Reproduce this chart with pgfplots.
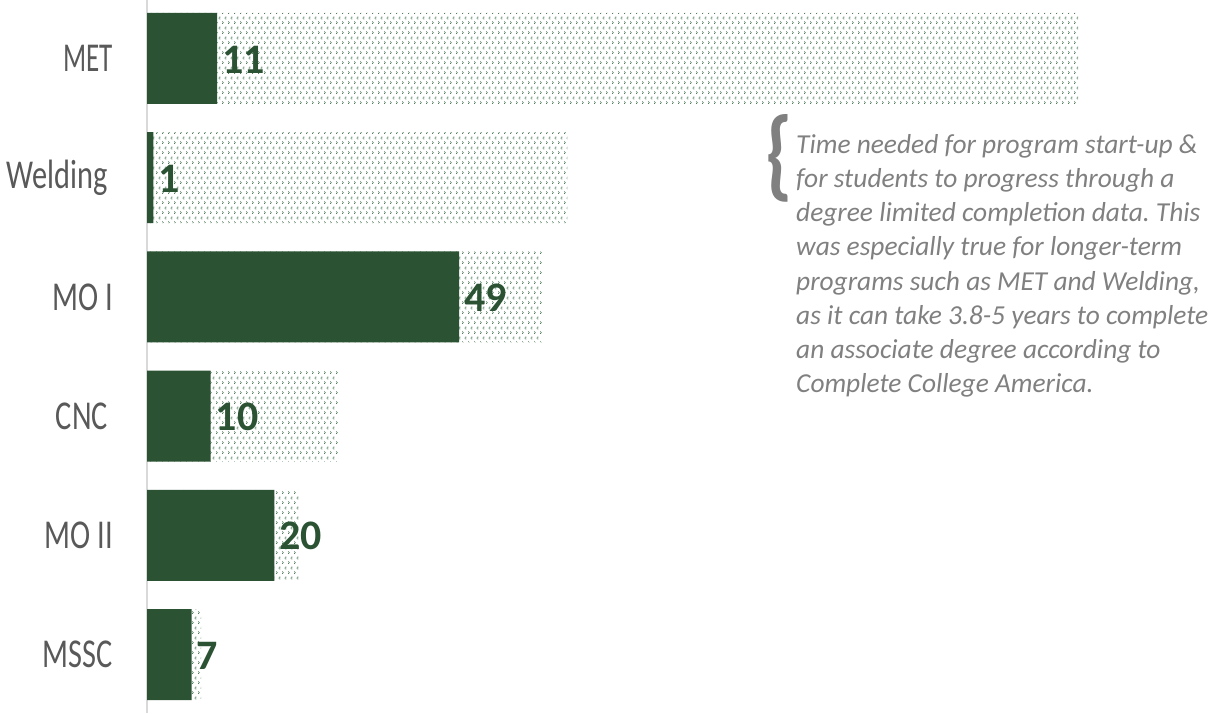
\documentclass[border=0pt]{standalone}
\usepackage{fontspec}
\setmainfont{Carlito}
\newfontfamily\condfont[FakeStretch=0.74]{Carlito}
\newfontfamily\condfontn[FakeStretch=0.66]{Carlito}
\usepackage{pgfplots}
\pgfplotsset{compat=1.18}
\usetikzlibrary{patterns}
\definecolor{dkgreen}{HTML}{2A5233}
\definecolor{patgreen}{HTML}{4F7D5B}
\definecolor{lblgray}{HTML}{595959}
\definecolor{notegray}{HTML}{808080}
\pgfdeclarepatternformonly{chevdots}{\pgfqpoint{0pt}{0pt}}{\pgfqpoint{6pt}{10pt}}{\pgfqpoint{6pt}{10pt}}{%
 \pgfpathrectangle{\pgfqpoint{0pt}{0pt}}{\pgfqpoint{1pt}{1pt}}%
 \pgfpathrectangle{\pgfqpoint{1pt}{1pt}}{\pgfqpoint{1pt}{1pt}}%
 \pgfpathrectangle{\pgfqpoint{0pt}{2pt}}{\pgfqpoint{1pt}{1pt}}%
 \pgfpathrectangle{\pgfqpoint{4pt}{5pt}}{\pgfqpoint{1pt}{1pt}}%
 \pgfpathrectangle{\pgfqpoint{3pt}{6pt}}{\pgfqpoint{1pt}{1pt}}%
 \pgfpathrectangle{\pgfqpoint{4pt}{7pt}}{\pgfqpoint{1pt}{1pt}}%
 \pgfusepath{fill}}
\begin{document}
\begin{tikzpicture}[x=1pt,y=1pt]
\begin{axis}[
 at={(147pt,0pt)}, anchor=south west,
 scale only axis, width=1051pt, height=713pt,
 xmin=0, xmax=165, ymin=-0.49, ymax=5.49,
 xbar, bar width=91pt, bar shift=0pt,
 axis x line=none, axis y line*=left,
 y axis line style={draw=black!15, line width=1.5pt},
 ytick={0,...,5},
 yticklabels={MSSC, MO II, {CNC\kern5pt}, MO I, {Welding\kern5pt}, {\condfontn MET}},
 major tick length=0pt,
 yticklabel style={font=\condfont\fontsize{41}{41}\selectfont, text=lblgray, anchor=east, inner sep=0pt, xshift=-34pt},
 clip=false,
]
\addplot[draw=none, bar shift=0pt, pattern=chevdots, pattern color=patgreen] coordinates {(8.5,0) (24,1) (30,2) (62,3) (66,4) (146.2,5)};
\addplot[draw=none, bar shift=0pt, fill=dkgreen,
 nodes near coords={\pgfmathprintnumber[assume math mode=true]{\pgfplotspointmeta}},
 every node near coord/.style={anchor=west, inner sep=0pt, xshift=5pt, yshift=-1pt, font=\bfseries\fontsize{42}{42}\selectfont, text=dkgreen}]
 coordinates {(7,0) (20,1) (10,2) (49,3) (1,4) (11,5)};
\end{axis}
\node[anchor=north west, inner sep=0pt, text=notegray, font=\bfseries\fontsize{100}{100}\selectfont] at (765, 713-114) {\scalebox{0.8}[1]{\{}};
\node[anchor=north west, inner sep=0pt, align=left, text=notegray, font=\frenchspacing\itshape\fontsize{27.4}{34.2}\selectfont] at (796, 713-134) {Time needed for program start-up \&\\for students to progress through a\\degree limited completion data.\ This\\was especially true for longer-term\\programs such as MET and Welding,\\as it can take 3.8-5 years to complete\\an associate degree according to\\Complete College America.};
\pgfresetboundingbox
\path[use as bounding box] (0,0) rectangle (1212,713);
\end{tikzpicture}
\end{document}
